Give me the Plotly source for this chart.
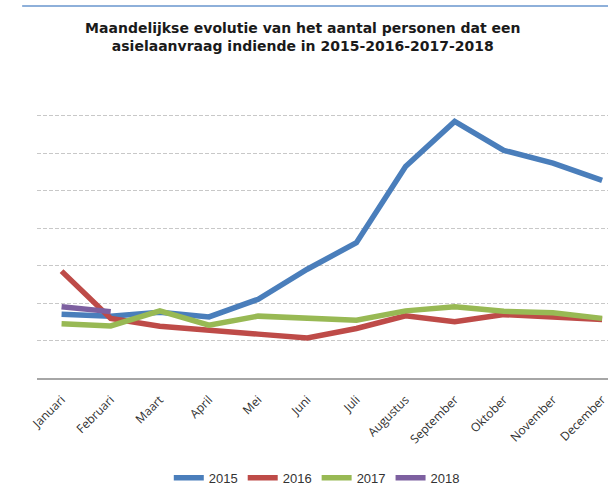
import plotly.graph_objects as go

months = ["Januari", "Februari", "Maart", "April", "Mei", "Juni", "Juli",
          "Augustus", "September", "Oktober", "November", "December"]
y2015 = [1700, 1650, 1750, 1630, 2100, 2900, 3610, 5640, 6840, 6070, 5730, 5270]
y2016 = [2850, 1590, 1380, 1290, 1170, 1070, 1320, 1660, 1500, 1690, 1610, 1560]
y2017 = [1450, 1390, 1790, 1410, 1650, 1610, 1540, 1790, 1900, 1780, 1740, 1590]
y2018 = [1900, 1770]

series = [("2015", y2015, "#4A7EBB"), ("2016", y2016, "#BE4B48"),
          ("2017", y2017, "#98B954"), ("2018", y2018, "#7D60A0")]

fig = go.Figure()
for name, vals, col in series:
    fig.add_trace(go.Scatter(x=months[:len(vals)], y=vals, mode="lines", name=name,
                             line=dict(color=col, width=5.5)))

fig.update_layout(
    width=608, height=500,
    margin=dict(l=37, r=0, t=78, b=122, autoexpand=False),
    paper_bgcolor="white", plot_bgcolor="white",
    title=dict(text="Maandelijkse evolutie van het aantal personen dat een<br>asielaanvraag indiende in 2015-2016-2017-2018",
               x=0.498, xanchor="center", xref="container", y=0.935, yanchor="middle",
               font=dict(family="DejaVu Sans", size=14, color="#1a1a1a", weight="bold")),
    showlegend=True,
    legend=dict(orientation="h", x=0.49, xanchor="center", y=-0.333, yanchor="middle",
                font=dict(family="Liberation Sans Narrow, Liberation Sans", size=13, color="#333333"),
                itemwidth=30, tracegroupgap=0),
    xaxis=dict(type="category", range=[-0.5, 11.12], showgrid=False, automargin=False,
               showline=True, linecolor="#A6A6A6", linewidth=2, ticks="",
               ticklabelstandoff=8,
               tickangle=-45, tickfont=dict(family="Open Sans", size=12, color="#303030")),
    yaxis=dict(range=[0, 8000], dtick=1000, showticklabels=False, showgrid=True,
               automargin=False,
               gridcolor="#C8C8C8", griddash="4px,2px", gridwidth=1, zeroline=False,
               showline=False),
    shapes=[dict(type="line", xref="paper", yref="paper", x0=-0.026, x1=1.0,
                 y0=1.24, y1=1.24, line=dict(color="#8EB0DA", width=2))],
)

fig.write_html("out.html", config={"displayModeBar": False},
               post_script="document.body.style.margin='0';")
